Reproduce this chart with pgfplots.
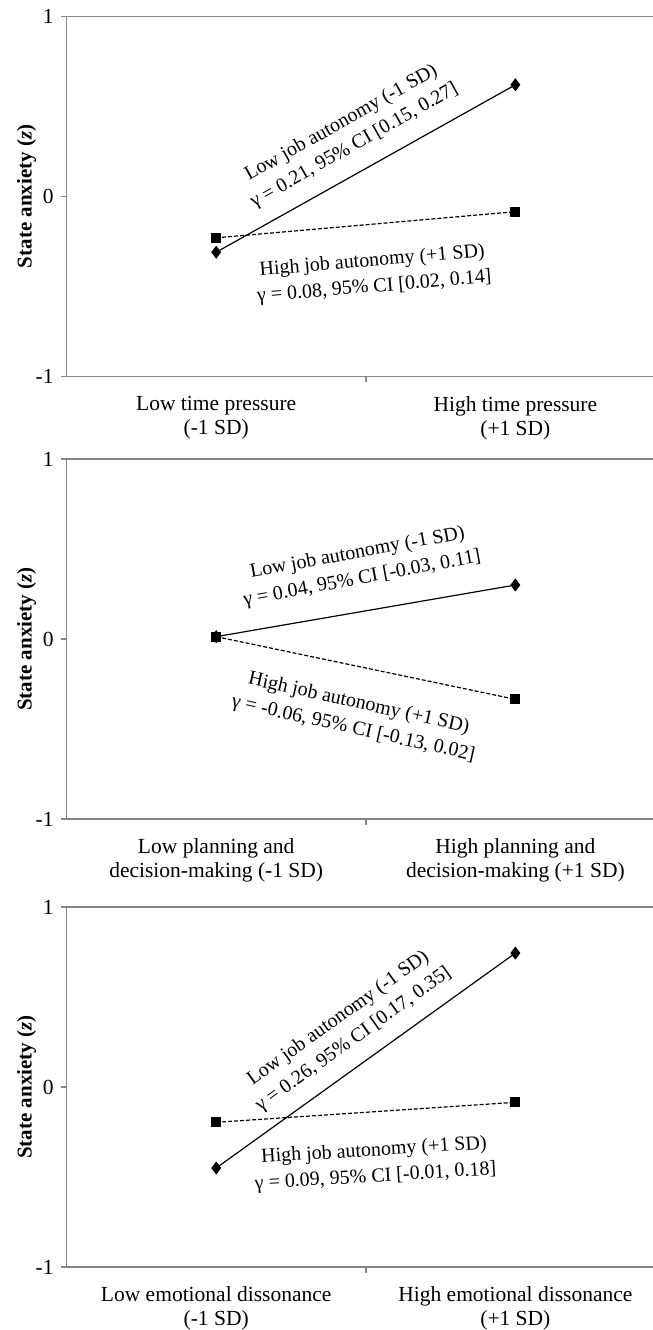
\documentclass[border=0pt]{standalone}
\usepackage{pgfplots}
\pgfplotsset{compat=1.18}
\usepackage{fontspec}
\setmainfont{Liberation Serif}
\definecolor{axgray}{RGB}{134,134,134}
\tikzset{ann/.style={align=center, font=\fontsize{10}{13}\selectfont, inner sep=0pt}}
\pgfplotsset{
  panel/.style={
    scale only axis, width=293.2pt, height=180pt,
    xmin=0.5, xmax=2.46, ymin=-1, ymax=1,
    axis lines*=left,
    axis line style={axgray, line width=0.75pt},
    tick align=outside, major tick length=3pt,
    tick style={axgray, line width=0.75pt},
    ytick={-1,0,1}, yticklabels={-1,0,1},
    xtick={1.5}, xticklabels={},
    extra x ticks={1,2},
    extra x tick style={major tick length=0pt},
    tick label style={font=\fontsize{10.75}{12}\selectfont, black},
    xticklabel style={align=center, yshift=-6.5pt},
    ylabel={\textbf{State anxiety (\textit{z})}},
    every axis y label/.style={at={(axis description cs:-0.068,0.5)}, rotate=90, anchor=center, font=\fontsize{10.5}{12}\selectfont},
    clip=false,
  },
  lowline/.style={black, line width=0.6pt, mark=diamond*, mark size=2.8pt},
  highline/.style={black, line width=0.6pt, dash pattern=on 2pt off 1pt, mark=square*, mark size=2.2pt, mark options={solid}},
}
\begin{document}
\begin{tikzpicture}
% Panel 1
\begin{axis}[panel, at={(0pt,-8.2pt)}, anchor=north west,
  extra x tick labels={{Low time pressure\\(-1 SD)},{High time pressure\\(+1 SD)}}]
\addplot[lowline] coordinates {(1,-0.31) (2,0.62)};
\addplot[highline] coordinates {(1,-0.23) (2,-0.085)};
\draw[axgray, line width=0.75pt] (rel axis cs:0,1) -- (rel axis cs:1,1);
\node[ann, rotate=29.5] at (axis cs:1.44,0.344) {Low job autonomy (-1 SD)\\γ = 0.21, 95\% CI [0.15, 0.27]};
\node[ann, rotate=4.8] at (axis cs:1.525,-0.433) {High job autonomy (+1 SD)\\γ = 0.08, 95\% CI [0.02, 0.14]};
\end{axis}
% Panel 2
\begin{axis}[panel, at={(0pt,-229.5pt)}, anchor=north west,
  extra x tick labels={{Low planning and\\decision-making (-1 SD)},{High planning and\\decision-making (+1 SD)}}]
\addplot[lowline] coordinates {(1,0.013) (2,0.30)};
\addplot[highline] coordinates {(1,0.013) (2,-0.335)};
\draw[axgray, line width=0.75pt] (rel axis cs:0,1) -- (rel axis cs:1,1);
\node[ann, rotate=10.5] at (axis cs:1.48,0.405) {Low job autonomy (-1 SD)\\γ = 0.04, 95\% CI [-0.03, 0.11]};
\node[ann, rotate=-12.5] at (axis cs:1.467,-0.43) {High job autonomy (+1 SD)\\γ = -0.06, 95\% CI [-0.13, 0.02]};
\end{axis}
% Panel 3
\begin{axis}[panel, at={(0pt,-453.5pt)}, anchor=north west,
  extra x tick labels={{Low emotional dissonance\\(-1 SD)},{High emotional dissonance\\(+1 SD)}}]
\addplot[lowline] coordinates {(1,-0.45) (2,0.744)};
\addplot[highline] coordinates {(1,-0.196) (2,-0.085)};
\draw[axgray, line width=0.75pt] (rel axis cs:0,1) -- (rel axis cs:1,1);
\node[ann, rotate=35.5] at (axis cs:1.434,0.322) {Low job autonomy (-1 SD)\\γ = 0.26, 95\% CI [0.17, 0.35]};
\node[ann, rotate=3.5] at (axis cs:1.53,-0.428) {High job autonomy (+1 SD)\\γ = 0.09, 95\% CI [-0.01, 0.18]};
\end{axis}
\pgfresetboundingbox
\useasboundingbox (-33.3pt,0pt) rectangle (293.2pt,-665pt);
\end{tikzpicture}
\end{document}
